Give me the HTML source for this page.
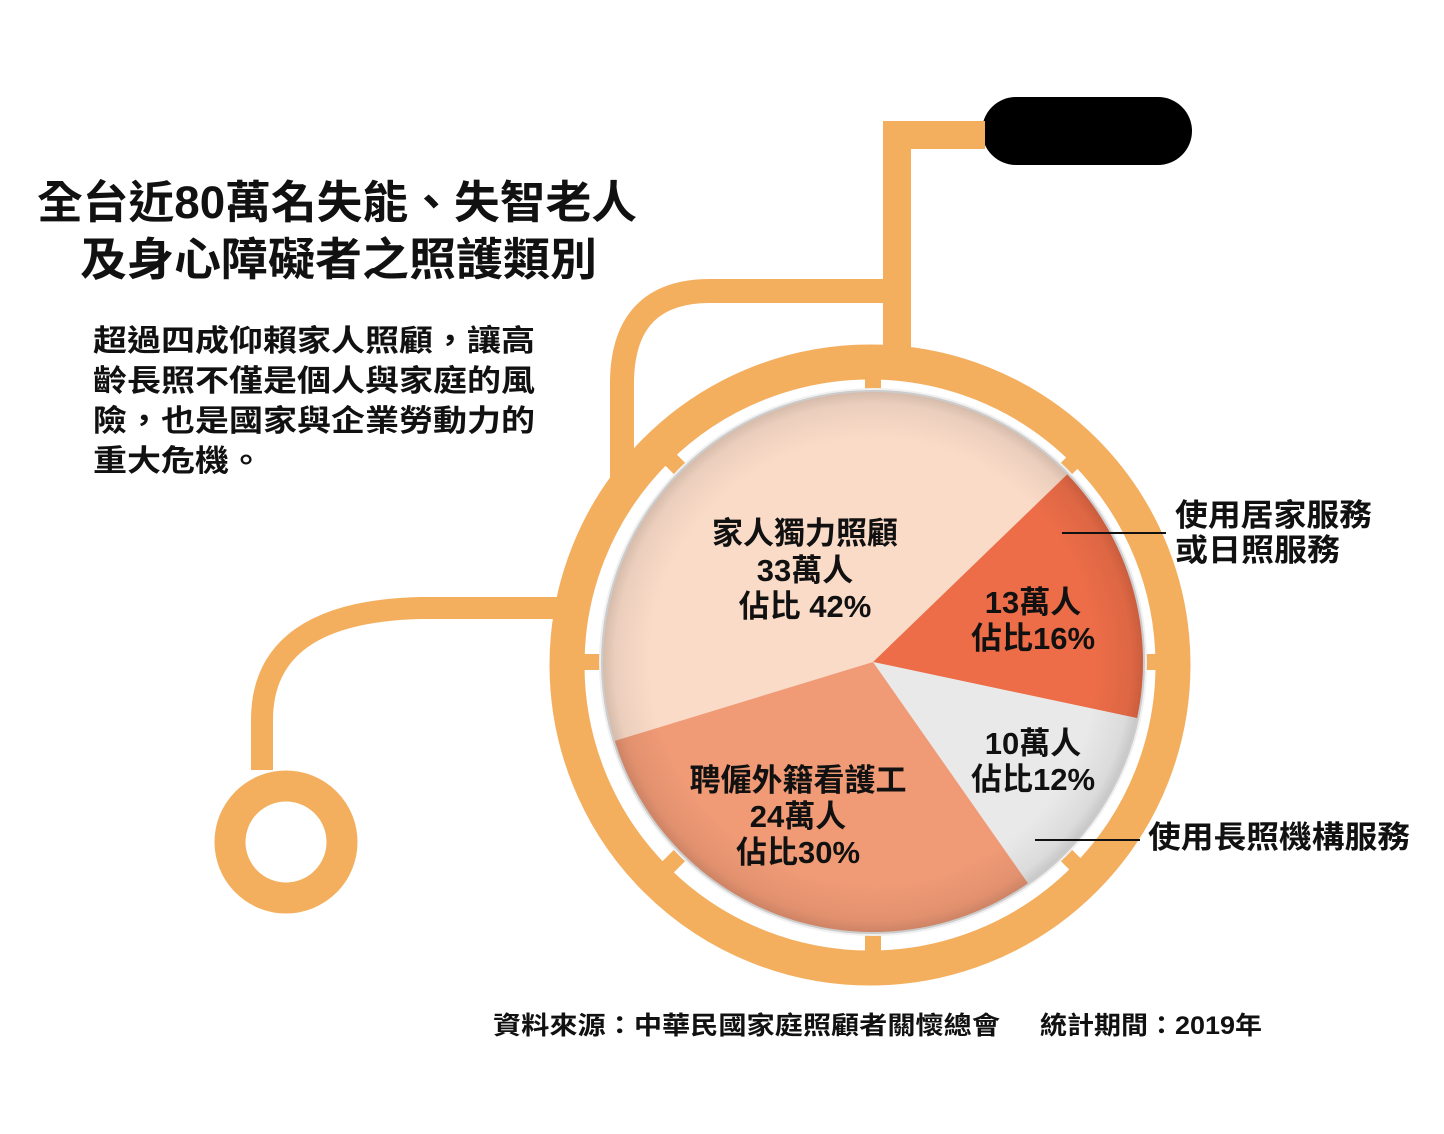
<!DOCTYPE html>
<html><head><meta charset="utf-8"><style>
html,body{margin:0;padding:0;background:#fff;}
svg{display:block;}
text{font-family:"Liberation Sans","Noto Sans CJK TC",sans-serif;fill:#111;}
</style></head><body>
<svg width="1444" height="1134" viewBox="0 0 1444 1134" xmlns="http://www.w3.org/2000/svg">
<defs>
<radialGradient id="shade" cx="873" cy="662" r="272" gradientUnits="userSpaceOnUse">
<stop offset="0.82" stop-color="#000" stop-opacity="0"/>
<stop offset="0.95" stop-color="#000" stop-opacity="0.06"/>
<stop offset="1" stop-color="#000" stop-opacity="0.16"/>
</radialGradient>
</defs>
<rect width="1444" height="1134" fill="#fff"/>
<rect x="982" y="97" width="210" height="68" rx="34" fill="#000"/>
<path d="M985 135 H897 V360" fill="none" stroke="#F4AF5E" stroke-width="28"/>
<path d="M897 291 H710 Q624 291 622 380 V480" fill="none" stroke="#F4AF5E" stroke-width="24"/>
<path d="M560 608 H420 Q262 612 262 720 V770" fill="none" stroke="#F4AF5E" stroke-width="22"/>
<circle cx="286" cy="842" r="56" fill="none" stroke="#F4AF5E" stroke-width="31"/>
<circle cx="870" cy="665" r="303" fill="#fff" stroke="#F4AF5E" stroke-width="35"/>
<g stroke="#F4AF5E" stroke-width="16">
<line x1="873" y1="372" x2="873" y2="400"/>
<line x1="873" y1="924" x2="873" y2="955"/>
<line x1="578" y1="662" x2="608" y2="662"/>
<line x1="1138" y1="662" x2="1168" y2="662"/>
<line x1="665" y1="454" x2="686" y2="475"/>
<line x1="1081" y1="454" x2="1060" y2="475"/>
<line x1="665" y1="870" x2="686" y2="849"/>
<line x1="1081" y1="870" x2="1060" y2="849"/>
</g>
<circle cx="873" cy="662" r="274" fill="#f0f0f0"/>
<path d="M873 662 L614.8 740.9 A270 270 0 0 1 1067.2 474.4 Z" fill="#FADBC8"/>
<path d="M873 662 L1067.2 474.4 A270 270 0 0 1 1137.1 718.1 Z" fill="#EC6D48"/>
<path d="M873 662 L1137.1 718.1 A270 270 0 0 1 1027.9 883.2 Z" fill="#E9E9E9"/>
<path d="M873 662 L1027.9 883.2 A270 270 0 0 1 614.8 740.9 Z" fill="#F09A76"/>
<circle cx="873" cy="662" r="272" fill="url(#shade)"/>
<g font-weight="bold">
<text x="37" y="218" font-size="45" textLength="600" lengthAdjust="spacingAndGlyphs">全台近80萬名失能、失智老人</text>
<text x="80" y="275" font-size="45" textLength="517" lengthAdjust="spacingAndGlyphs">及身心障礙者之照護類別</text>
<g font-size="30">
<text x="93" y="351" textLength="442" lengthAdjust="spacingAndGlyphs">超過四成仰賴家人照顧，讓高</text>
<text x="93" y="391" textLength="442" lengthAdjust="spacingAndGlyphs">齡長照不僅是個人與家庭的風</text>
<text x="93" y="431" textLength="442" lengthAdjust="spacingAndGlyphs">險，也是國家與企業勞動力的</text>
<text x="93" y="471" textLength="170" lengthAdjust="spacingAndGlyphs">重大危機。</text>
</g>
<g font-size="31" text-anchor="middle">
<text x="805" y="544">家人獨力照顧</text>
<text x="805" y="581">33萬人</text>
<text x="805" y="617">佔比 42%</text>
<text x="1033" y="613">13萬人</text>
<text x="1033" y="649">佔比16%</text>
<text x="1033" y="754">10萬人</text>
<text x="1033" y="790">佔比12%</text>
<text x="798" y="791">聘僱外籍看護工</text>
<text x="798" y="827">24萬人</text>
<text x="798" y="863">佔比30%</text>
</g>
<g font-size="31">
<text x="1175" y="526" textLength="197" lengthAdjust="spacingAndGlyphs">使用居家服務</text>
<text x="1175" y="561" textLength="165" lengthAdjust="spacingAndGlyphs">或日照服務</text>
<text x="1148" y="848" textLength="262" lengthAdjust="spacingAndGlyphs">使用長照機構服務</text>
</g>
<g font-size="25">
<text x="493" y="1034" textLength="507" lengthAdjust="spacingAndGlyphs">資料來源：中華民國家庭照顧者關懷總會</text>
<text x="1040" y="1034" textLength="222" lengthAdjust="spacingAndGlyphs">統計期間：2019年</text>
</g>
</g>
<line x1="1062" y1="533" x2="1166" y2="533" stroke="#111" stroke-width="2"/>
<line x1="1035" y1="840" x2="1140" y2="840" stroke="#111" stroke-width="2"/>
</svg>
</body></html>
